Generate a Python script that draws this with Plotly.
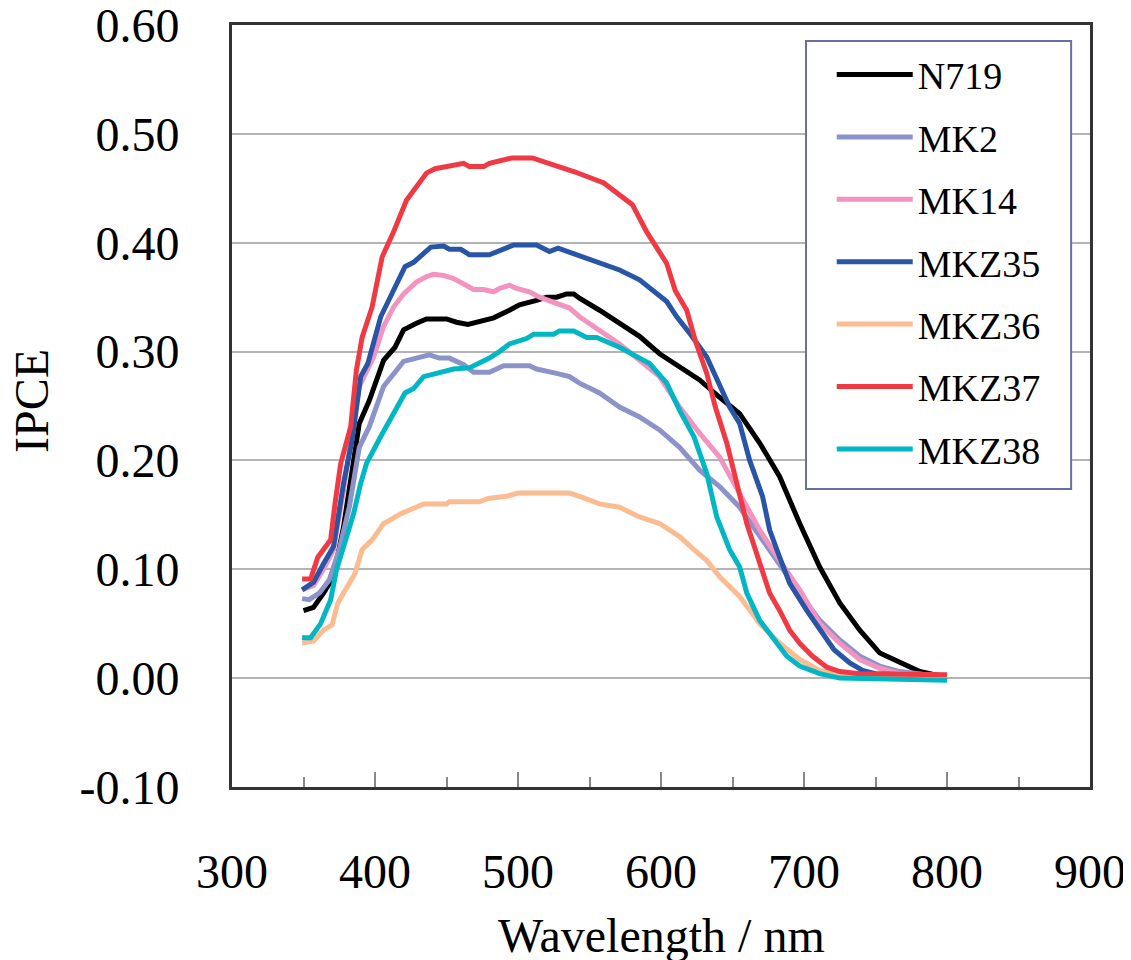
import plotly.graph_objects as go

# IPCE spectra (wavelength in nm, IPCE as fraction)
n719_x = [350, 357, 364, 371, 378, 382, 389, 396, 406, 414, 420, 429, 436, 450, 457, 465, 473, 483, 494,
          501, 513, 520, 527, 534, 539, 543, 557, 571, 585, 599, 613, 627, 641, 655, 669, 683, 697, 711,
          725, 739, 753, 767, 781, 795, 800]
n719_y = [0.062, 0.065, 0.078, 0.093, 0.139, 0.176, 0.234, 0.255, 0.292, 0.304, 0.320, 0.326, 0.330, 0.330,
          0.327, 0.325, 0.328, 0.331, 0.338, 0.343, 0.347, 0.350, 0.350, 0.353, 0.353, 0.349, 0.338, 0.326,
          0.314, 0.298, 0.286, 0.274, 0.258, 0.243, 0.216, 0.185, 0.142, 0.102, 0.069, 0.044, 0.023, 0.014,
          0.006, 0.002, 0.002]

mk2_x = [349, 354, 361, 368, 375, 382, 389, 396, 406, 413, 420, 429, 438, 445, 452, 462, 469, 480, 490,
         508, 513, 527, 536, 543, 557, 571, 585, 599, 613, 627, 641, 655, 669, 683, 697, 711, 725, 739,
         753, 767, 786, 800]
mk2_y = [0.073, 0.072, 0.078, 0.090, 0.118, 0.157, 0.212, 0.231, 0.268, 0.280, 0.291, 0.294, 0.297, 0.294,
         0.294, 0.288, 0.281, 0.281, 0.287, 0.287, 0.284, 0.280, 0.277, 0.271, 0.262, 0.249, 0.240, 0.228,
         0.212, 0.191, 0.176, 0.157, 0.130, 0.105, 0.078, 0.053, 0.035, 0.020, 0.011, 0.006, 0.003, 0.002]

mk14_x = [349, 357, 364, 371, 378, 389, 399, 406, 413, 420, 429, 436, 441, 448, 455, 464, 469, 476, 483,
          487, 494, 499, 508, 515, 527, 536, 543, 557, 571, 585, 599, 613, 627, 641, 655, 669, 683, 697,
          711, 725, 739, 753, 767, 800]
mk14_y = [0.081, 0.085, 0.100, 0.118, 0.173, 0.268, 0.295, 0.323, 0.341, 0.353, 0.364, 0.369, 0.371, 0.370,
          0.367, 0.361, 0.357, 0.357, 0.355, 0.358, 0.361, 0.358, 0.355, 0.350, 0.344, 0.340, 0.332, 0.320,
          0.307, 0.292, 0.277, 0.249, 0.225, 0.203, 0.170, 0.136, 0.108, 0.081, 0.050, 0.032, 0.017, 0.009,
          0.004, 0.002]

mkz35_x = [349, 357, 364, 371, 378, 384, 390, 395, 404, 414, 421, 427, 439, 448, 452, 460, 466, 480, 497,
           513, 522, 528, 539, 557, 571, 585, 595, 604, 611, 620, 632, 639, 648, 655, 662, 671, 676, 683,
           690, 702, 711, 721, 732, 741, 750, 800]
mkz35_y = [0.081, 0.088, 0.105, 0.121, 0.179, 0.219, 0.277, 0.289, 0.332, 0.359, 0.378, 0.382, 0.396, 0.397,
           0.394, 0.394, 0.389, 0.389, 0.398, 0.398, 0.392, 0.395, 0.390, 0.382, 0.375, 0.366, 0.355, 0.346,
           0.332, 0.317, 0.295, 0.274, 0.249, 0.234, 0.200, 0.167, 0.136, 0.111, 0.087, 0.062, 0.044, 0.026,
           0.014, 0.007, 0.004, 0.002]

mkz36_x = [349, 357, 364, 370, 374, 381, 386, 391, 398, 406, 418, 434, 450, 452, 473, 479, 492, 500, 536,
           543, 557, 571, 585, 599, 613, 623, 632, 641, 655, 669, 683, 697, 711, 725, 760, 800]
mkz36_y = [0.032, 0.034, 0.044, 0.049, 0.069, 0.084, 0.096, 0.118, 0.127, 0.142, 0.151, 0.160, 0.160, 0.162,
           0.162, 0.165, 0.167, 0.170, 0.170, 0.167, 0.160, 0.157, 0.148, 0.142, 0.130, 0.118, 0.108, 0.093,
           0.075, 0.050, 0.032, 0.017, 0.007, 0.003, 0.002, 0.001]

mkz37_x = [349, 355, 360, 369, 372, 376, 383, 387, 391, 398, 405, 413, 422, 436, 442, 455, 462, 466, 476,
           480, 496, 510, 522, 540, 560, 580, 590, 595, 604, 610, 618, 624, 632, 638, 646, 653, 660, 669,
           676, 683, 690, 697, 706, 716, 725, 739, 800]
mkz37_y = [0.091, 0.091, 0.111, 0.127, 0.160, 0.197, 0.231, 0.283, 0.313, 0.341, 0.387, 0.410, 0.439, 0.464,
           0.468, 0.471, 0.473, 0.470, 0.470, 0.473, 0.478, 0.478, 0.473, 0.465, 0.455, 0.435, 0.410, 0.400,
           0.381, 0.356, 0.338, 0.310, 0.280, 0.249, 0.216, 0.179, 0.142, 0.106, 0.078, 0.062, 0.044, 0.032,
           0.020, 0.010, 0.006, 0.004, 0.003]

mkz38_x = [349, 355, 362, 369, 373, 380, 385, 390, 394, 404, 413, 421, 427, 434, 443, 450, 455, 466, 473,
           480, 487, 494, 506, 511, 525, 529, 539, 548, 555, 571, 585, 592, 604, 613, 623, 632, 639, 648,
           655, 660, 669, 679, 688, 697, 711, 725, 760, 800]
mkz38_y = [0.037, 0.037, 0.050, 0.072, 0.099, 0.130, 0.151, 0.179, 0.197, 0.222, 0.243, 0.262, 0.266, 0.277,
           0.280, 0.283, 0.284, 0.285, 0.289, 0.294, 0.300, 0.307, 0.312, 0.316, 0.316, 0.319, 0.319, 0.313,
           0.313, 0.304, 0.294, 0.289, 0.271, 0.246, 0.222, 0.188, 0.148, 0.118, 0.102, 0.078, 0.053, 0.035,
           0.020, 0.011, 0.004, 0.000, -0.001, -0.002]

series = [
    ("N719", n719_x, n719_y, "#000000"),
    ("MK2", mk2_x, mk2_y, "#8c93c9"),
    ("MK14", mk14_x, mk14_y, "#f293c0"),
    ("MKZ35", mkz35_x, mkz35_y, "#2855a5"),
    ("MKZ36", mkz36_x, mkz36_y, "#fbbc92"),
    ("MKZ37", mkz37_x, mkz37_y, "#ef3a44"),
    ("MKZ38", mkz38_x, mkz38_y, "#00b7c3"),
]

x_ticks = [300, 400, 500, 600, 700, 800, 900]
y_ticks = [-0.1, 0.0, 0.1, 0.2, 0.3, 0.4, 0.5, 0.6]
y_labels = ["-0.10", "0.00", "0.10", "0.20", "0.30", "0.40", "0.50", "0.60"]

serif = "Liberation Serif, Times New Roman, serif"

fig = go.Figure()
for name, xs, ys, col in series:
    fig.add_trace(go.Scatter(x=xs, y=ys, name=name, mode="lines", legendgroup=name,
                             line=dict(color=col, width=5)))

# the page body has an 8px margin, so the figure is 8px smaller than the window
fig.update_layout(
    width=1123, height=952,
    margin=dict(l=224, r=41, t=17, b=173, autoexpand=False),
    paper_bgcolor="white", plot_bgcolor="white",
    font=dict(family=serif, size=48, color="black"),
    showlegend=True,
    legend=dict(x=0.699, y=0.976, xanchor="left", yanchor="top",
                bgcolor="rgba(0,0,0,0)", borderwidth=0,
                font=dict(family=serif, size=38, color="black"),
                tracegroupgap=10, itemwidth=76),
)

# legend frame, drawn as a box so its width matches the original
fig.add_shape(type="rect", xref="paper", yref="paper", x0=0.669, x1=0.978, y0=0.391, y1=0.979,
              line=dict(color="#6a6ea3", width=2), fillcolor="white", layer="above")

fig.update_xaxes(
    range=[300, 900], tickvals=x_ticks, showgrid=False, zeroline=False, automargin=False,
    showline=True, linecolor="#333333", linewidth=3, mirror=True,
    ticks="inside", ticklen=15, tickwidth=2, tickcolor="#888888",
    minor=dict(ticks="inside", ticklen=10, tickwidth=2, tickcolor="#888888", dtick=50, showgrid=False),
    ticklabelstandoff=40, ticklabeloverflow="allow",
    tickfont=dict(family=serif, size=48),
)
fig.update_yaxes(
    range=[-0.1001, 0.6001], tickvals=y_ticks, ticktext=y_labels, automargin=False,
    showgrid=True, gridcolor="#b4b4b4", gridwidth=1.5, zeroline=False,
    showline=True, linecolor="#333333", linewidth=3, mirror=True,
    ticks="", ticklabelstandoff=40, ticklabeloverflow="allow",
    tickfont=dict(family=serif, size=48),
)

fig.add_annotation(text="Wavelength / nm", xref="paper", yref="paper", x=0.501, y=-0.195,
                   xanchor="center", yanchor="middle", showarrow=False,
                   font=dict(family=serif, size=48))
fig.add_annotation(text="IPCE", xref="paper", yref="paper", x=-0.234, y=0.507,
                   xanchor="center", yanchor="middle", showarrow=False, textangle=-90,
                   font=dict(family=serif, size=48))

fig.write_html("out.html")
